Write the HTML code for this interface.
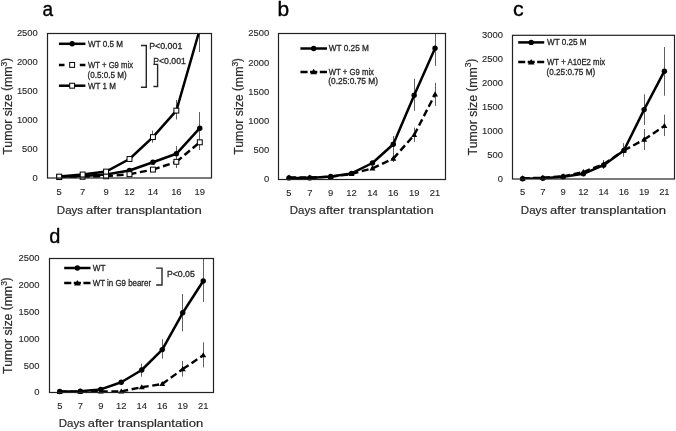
<!DOCTYPE html><html><head><meta charset="utf-8"><style>html,body{margin:0;padding:0;background:#fff;width:676px;height:431px;overflow:hidden}svg{display:block;will-change:transform}</style></head><body><svg width="676" height="431" viewBox="0 0 676 431" font-family="Liberation Sans, sans-serif">
<rect width="676" height="431" fill="#fff"/>
<line x1="152.50" y1="130.6" x2="152.50" y2="142.7" stroke="#606060" stroke-width="1"/>
<line x1="176.50" y1="100" x2="176.50" y2="119.5" stroke="#606060" stroke-width="1"/>
<line x1="199.50" y1="33.5" x2="199.50" y2="52" stroke="#606060" stroke-width="1"/>
<line x1="199.50" y1="112" x2="199.50" y2="145" stroke="#606060" stroke-width="1"/>
<line x1="176.50" y1="146" x2="176.50" y2="160" stroke="#606060" stroke-width="1"/>
<line x1="199.50" y1="135" x2="199.50" y2="150" stroke="#606060" stroke-width="1"/>
<line x1="176.50" y1="155" x2="176.50" y2="168" stroke="#606060" stroke-width="1"/>
<clipPath id="ca"><rect x="47.5" y="33.5" width="164.00" height="144.50"/></clipPath>
<polyline clip-path="url(#ca)" points="59.21,176.8 82.64,176 106.07,174.5 129.50,170.5 152.93,162.2 176.36,153.8 199.79,128.2" fill="none" stroke="#000" stroke-width="2.5" stroke-linejoin="round"/>
<line clip-path="url(#ca)" x1="59.21" y1="177.1" x2="82.64" y2="176.8" stroke="#000" stroke-width="2.4" stroke-dasharray="7,3.6" stroke-dashoffset="0"/>
<line clip-path="url(#ca)" x1="82.64" y1="176.8" x2="106.07" y2="176.3" stroke="#000" stroke-width="2.4" stroke-dasharray="7,3.6" stroke-dashoffset="0"/>
<line clip-path="url(#ca)" x1="106.07" y1="176.3" x2="129.50" y2="174.2" stroke="#000" stroke-width="2.4" stroke-dasharray="7,3.6" stroke-dashoffset="0"/>
<line clip-path="url(#ca)" x1="129.50" y1="174.2" x2="152.93" y2="169.6" stroke="#000" stroke-width="2.4" stroke-dasharray="7,3.6" stroke-dashoffset="0"/>
<line clip-path="url(#ca)" x1="152.93" y1="169.6" x2="176.36" y2="161.8" stroke="#000" stroke-width="2.4" stroke-dasharray="7,3.6" stroke-dashoffset="0"/>
<line clip-path="url(#ca)" x1="176.36" y1="161.8" x2="199.79" y2="142.3" stroke="#000" stroke-width="2.4" stroke-dasharray="7,3.6" stroke-dashoffset="0"/>
<polyline clip-path="url(#ca)" points="59.21,176.6 82.64,174.5 106.07,171.6 129.50,159 152.93,137.1 176.36,110.6 199.79,29.3" fill="none" stroke="#000" stroke-width="2.5" stroke-linejoin="round"/>
<circle cx="59.21" cy="176.80" r="2.7" fill="#000"/>
<circle cx="82.64" cy="176.00" r="2.7" fill="#000"/>
<circle cx="106.07" cy="174.50" r="2.7" fill="#000"/>
<circle cx="129.50" cy="170.50" r="2.7" fill="#000"/>
<circle cx="152.93" cy="162.20" r="2.7" fill="#000"/>
<circle cx="176.36" cy="153.80" r="2.7" fill="#000"/>
<circle cx="199.79" cy="128.20" r="2.7" fill="#000"/>
<rect x="56.76" y="174.65" width="4.9" height="4.9" fill="#fff" stroke="#000" stroke-width="1"/>
<rect x="80.19" y="174.35" width="4.9" height="4.9" fill="#fff" stroke="#000" stroke-width="1"/>
<rect x="103.62" y="173.85" width="4.9" height="4.9" fill="#fff" stroke="#000" stroke-width="1"/>
<rect x="127.05" y="171.75" width="4.9" height="4.9" fill="#fff" stroke="#000" stroke-width="1"/>
<rect x="150.48" y="167.15" width="4.9" height="4.9" fill="#fff" stroke="#000" stroke-width="1"/>
<rect x="173.91" y="159.35" width="4.9" height="4.9" fill="#fff" stroke="#000" stroke-width="1"/>
<rect x="197.34" y="139.85" width="4.9" height="4.9" fill="#fff" stroke="#000" stroke-width="1"/>
<rect x="56.76" y="174.15" width="4.9" height="4.9" fill="#fff" stroke="#000" stroke-width="1"/>
<rect x="80.19" y="172.05" width="4.9" height="4.9" fill="#fff" stroke="#000" stroke-width="1"/>
<rect x="103.62" y="169.15" width="4.9" height="4.9" fill="#fff" stroke="#000" stroke-width="1"/>
<rect x="127.05" y="156.55" width="4.9" height="4.9" fill="#fff" stroke="#000" stroke-width="1"/>
<rect x="150.48" y="134.65" width="4.9" height="4.9" fill="#fff" stroke="#000" stroke-width="1"/>
<rect x="173.91" y="108.15" width="4.9" height="4.9" fill="#fff" stroke="#000" stroke-width="1"/>
<rect x="47.5" y="33.5" width="164.00" height="144.50" fill="none" stroke="#222" stroke-width="1.2"/>
<text x="37.80" y="180.90" font-size="9.9" fill="#262626" text-anchor="end" stroke="#262626" stroke-width="0.12" textLength="5.23" lengthAdjust="spacingAndGlyphs" >0</text>
<text x="37.80" y="152.00" font-size="9.9" fill="#262626" text-anchor="end" stroke="#262626" stroke-width="0.12" textLength="15.68" lengthAdjust="spacingAndGlyphs" >500</text>
<text x="37.80" y="123.10" font-size="9.9" fill="#262626" text-anchor="end" stroke="#262626" stroke-width="0.12" textLength="20.91" lengthAdjust="spacingAndGlyphs" >1000</text>
<text x="37.80" y="94.20" font-size="9.9" fill="#262626" text-anchor="end" stroke="#262626" stroke-width="0.12" textLength="20.91" lengthAdjust="spacingAndGlyphs" >1500</text>
<text x="37.80" y="65.30" font-size="9.9" fill="#262626" text-anchor="end" stroke="#262626" stroke-width="0.12" textLength="20.91" lengthAdjust="spacingAndGlyphs" >2000</text>
<text x="37.80" y="36.40" font-size="9.9" fill="#262626" text-anchor="end" stroke="#262626" stroke-width="0.12" textLength="20.91" lengthAdjust="spacingAndGlyphs" >2500</text>
<text x="59.21" y="194.80" font-size="9.9" fill="#262626" text-anchor="middle" stroke="#262626" stroke-width="0.12" textLength="5.23" lengthAdjust="spacingAndGlyphs" >5</text>
<text x="82.64" y="194.80" font-size="9.9" fill="#262626" text-anchor="middle" stroke="#262626" stroke-width="0.12" textLength="5.23" lengthAdjust="spacingAndGlyphs" >7</text>
<text x="106.07" y="194.80" font-size="9.9" fill="#262626" text-anchor="middle" stroke="#262626" stroke-width="0.12" textLength="5.23" lengthAdjust="spacingAndGlyphs" >9</text>
<text x="129.50" y="194.80" font-size="9.9" fill="#262626" text-anchor="middle" stroke="#262626" stroke-width="0.12" textLength="10.45" lengthAdjust="spacingAndGlyphs" >12</text>
<text x="152.93" y="194.80" font-size="9.9" fill="#262626" text-anchor="middle" stroke="#262626" stroke-width="0.12" textLength="10.45" lengthAdjust="spacingAndGlyphs" >14</text>
<text x="176.36" y="194.80" font-size="9.9" fill="#262626" text-anchor="middle" stroke="#262626" stroke-width="0.12" textLength="10.45" lengthAdjust="spacingAndGlyphs" >16</text>
<text x="199.79" y="194.80" font-size="9.9" fill="#262626" text-anchor="middle" stroke="#262626" stroke-width="0.12" textLength="10.45" lengthAdjust="spacingAndGlyphs" >19</text>
<text x="56.85" y="213.50" font-size="11.4" fill="#2a2a2a" text-anchor="start" stroke="#2a2a2a" stroke-width="0.2" textLength="26.28" lengthAdjust="spacingAndGlyphs" >Days</text>
<text x="86.03" y="213.50" font-size="11.4" fill="#2a2a2a" text-anchor="start" stroke="#2a2a2a" stroke-width="0.2" textLength="25.82" lengthAdjust="spacingAndGlyphs" >after</text>
<text x="116.03" y="213.50" font-size="11.4" fill="#2a2a2a" text-anchor="start" stroke="#2a2a2a" stroke-width="0.2" textLength="85.79" lengthAdjust="spacingAndGlyphs" >transplantation</text>
<line x1="393.50" y1="136" x2="393.50" y2="152.6" stroke="#606060" stroke-width="1"/>
<line x1="414.50" y1="78.7" x2="414.50" y2="110.8" stroke="#606060" stroke-width="1"/>
<line x1="435.50" y1="33.5" x2="435.50" y2="65.9" stroke="#606060" stroke-width="1"/>
<line x1="414.50" y1="127.6" x2="414.50" y2="142" stroke="#606060" stroke-width="1"/>
<line x1="435.50" y1="82.9" x2="435.50" y2="105.9" stroke="#606060" stroke-width="1"/>
<line x1="393.50" y1="152" x2="393.50" y2="162" stroke="#606060" stroke-width="1"/>
<clipPath id="cb"><rect x="278.5" y="33.5" width="167.00" height="146.00"/></clipPath>
<polyline clip-path="url(#cb)" points="288.94,177.9 309.81,177.9 330.69,176.5 351.56,173.4 372.44,163 393.31,144.3 414.19,95.2 435.06,48.2" fill="none" stroke="#000" stroke-width="2.5" stroke-linejoin="round"/>
<line clip-path="url(#cb)" x1="288.94" y1="177.5" x2="309.81" y2="177.5" stroke="#000" stroke-width="2.4" stroke-dasharray="7,3.6" stroke-dashoffset="0"/>
<line clip-path="url(#cb)" x1="309.81" y1="177.5" x2="330.69" y2="176.8" stroke="#000" stroke-width="2.4" stroke-dasharray="7,3.6" stroke-dashoffset="0"/>
<line clip-path="url(#cb)" x1="330.69" y1="176.8" x2="351.56" y2="174" stroke="#000" stroke-width="2.4" stroke-dasharray="7,3.6" stroke-dashoffset="0"/>
<line clip-path="url(#cb)" x1="351.56" y1="174" x2="372.44" y2="168.3" stroke="#000" stroke-width="2.4" stroke-dasharray="7,3.6" stroke-dashoffset="0"/>
<line clip-path="url(#cb)" x1="372.44" y1="168.3" x2="393.31" y2="158.6" stroke="#000" stroke-width="2.4" stroke-dasharray="7,3.6" stroke-dashoffset="0"/>
<line clip-path="url(#cb)" x1="393.31" y1="158.6" x2="414.19" y2="135" stroke="#000" stroke-width="2.4" stroke-dasharray="7,3.6" stroke-dashoffset="0"/>
<line clip-path="url(#cb)" x1="414.19" y1="135" x2="435.06" y2="94.3" stroke="#000" stroke-width="2.4" stroke-dasharray="7,3.6" stroke-dashoffset="0"/>
<circle cx="288.94" cy="177.90" r="2.7" fill="#000"/>
<circle cx="309.81" cy="177.90" r="2.7" fill="#000"/>
<circle cx="330.69" cy="176.50" r="2.7" fill="#000"/>
<circle cx="351.56" cy="173.40" r="2.7" fill="#000"/>
<circle cx="372.44" cy="163.00" r="2.7" fill="#000"/>
<circle cx="393.31" cy="144.30" r="2.7" fill="#000"/>
<circle cx="414.19" cy="95.20" r="2.7" fill="#000"/>
<circle cx="435.06" cy="48.20" r="2.7" fill="#000"/>
<path d="M288.94,174.50 L291.94,179.60 L285.94,179.60 Z" fill="#000"/>
<path d="M309.81,174.50 L312.81,179.60 L306.81,179.60 Z" fill="#000"/>
<path d="M330.69,173.80 L333.69,178.90 L327.69,178.90 Z" fill="#000"/>
<path d="M351.56,171.00 L354.56,176.10 L348.56,176.10 Z" fill="#000"/>
<path d="M372.44,165.30 L375.44,170.40 L369.44,170.40 Z" fill="#000"/>
<path d="M393.31,155.60 L396.31,160.70 L390.31,160.70 Z" fill="#000"/>
<path d="M414.19,132.00 L417.19,137.10 L411.19,137.10 Z" fill="#000"/>
<path d="M435.06,91.30 L438.06,96.40 L432.06,96.40 Z" fill="#000"/>
<rect x="278.5" y="33.5" width="167.00" height="146.00" fill="none" stroke="#222" stroke-width="1.2"/>
<text x="269.20" y="182.40" font-size="9.9" fill="#262626" text-anchor="end" stroke="#262626" stroke-width="0.12" textLength="5.23" lengthAdjust="spacingAndGlyphs" >0</text>
<text x="269.20" y="153.20" font-size="9.9" fill="#262626" text-anchor="end" stroke="#262626" stroke-width="0.12" textLength="15.68" lengthAdjust="spacingAndGlyphs" >500</text>
<text x="269.20" y="124.00" font-size="9.9" fill="#262626" text-anchor="end" stroke="#262626" stroke-width="0.12" textLength="20.91" lengthAdjust="spacingAndGlyphs" >1000</text>
<text x="269.20" y="94.80" font-size="9.9" fill="#262626" text-anchor="end" stroke="#262626" stroke-width="0.12" textLength="20.91" lengthAdjust="spacingAndGlyphs" >1500</text>
<text x="269.20" y="65.60" font-size="9.9" fill="#262626" text-anchor="end" stroke="#262626" stroke-width="0.12" textLength="20.91" lengthAdjust="spacingAndGlyphs" >2000</text>
<text x="269.20" y="36.40" font-size="9.9" fill="#262626" text-anchor="end" stroke="#262626" stroke-width="0.12" textLength="20.91" lengthAdjust="spacingAndGlyphs" >2500</text>
<text x="288.94" y="196.40" font-size="9.9" fill="#262626" text-anchor="middle" stroke="#262626" stroke-width="0.12" textLength="5.23" lengthAdjust="spacingAndGlyphs" >5</text>
<text x="309.81" y="196.40" font-size="9.9" fill="#262626" text-anchor="middle" stroke="#262626" stroke-width="0.12" textLength="5.23" lengthAdjust="spacingAndGlyphs" >7</text>
<text x="330.69" y="196.40" font-size="9.9" fill="#262626" text-anchor="middle" stroke="#262626" stroke-width="0.12" textLength="5.23" lengthAdjust="spacingAndGlyphs" >9</text>
<text x="351.56" y="196.40" font-size="9.9" fill="#262626" text-anchor="middle" stroke="#262626" stroke-width="0.12" textLength="10.45" lengthAdjust="spacingAndGlyphs" >12</text>
<text x="372.44" y="196.40" font-size="9.9" fill="#262626" text-anchor="middle" stroke="#262626" stroke-width="0.12" textLength="10.45" lengthAdjust="spacingAndGlyphs" >14</text>
<text x="393.31" y="196.40" font-size="9.9" fill="#262626" text-anchor="middle" stroke="#262626" stroke-width="0.12" textLength="10.45" lengthAdjust="spacingAndGlyphs" >16</text>
<text x="414.19" y="196.40" font-size="9.9" fill="#262626" text-anchor="middle" stroke="#262626" stroke-width="0.12" textLength="10.45" lengthAdjust="spacingAndGlyphs" >19</text>
<text x="435.06" y="196.40" font-size="9.9" fill="#262626" text-anchor="middle" stroke="#262626" stroke-width="0.12" textLength="10.45" lengthAdjust="spacingAndGlyphs" >21</text>
<text x="289.85" y="214.10" font-size="11.4" fill="#2a2a2a" text-anchor="start" stroke="#2a2a2a" stroke-width="0.2" textLength="26.10" lengthAdjust="spacingAndGlyphs" >Days</text>
<text x="318.84" y="214.10" font-size="11.4" fill="#2a2a2a" text-anchor="start" stroke="#2a2a2a" stroke-width="0.2" textLength="25.64" lengthAdjust="spacingAndGlyphs" >after</text>
<text x="348.62" y="214.10" font-size="11.4" fill="#2a2a2a" text-anchor="start" stroke="#2a2a2a" stroke-width="0.2" textLength="85.19" lengthAdjust="spacingAndGlyphs" >transplantation</text>
<line x1="623.50" y1="143.2" x2="623.50" y2="156.8" stroke="#606060" stroke-width="1"/>
<line x1="644.50" y1="94.3" x2="644.50" y2="125" stroke="#606060" stroke-width="1"/>
<line x1="664.50" y1="47" x2="664.50" y2="95.7" stroke="#606060" stroke-width="1"/>
<line x1="644.50" y1="129" x2="644.50" y2="150" stroke="#606060" stroke-width="1"/>
<line x1="664.50" y1="114.7" x2="664.50" y2="136.1" stroke="#606060" stroke-width="1"/>
<line x1="603.50" y1="160" x2="603.50" y2="169" stroke="#606060" stroke-width="1"/>
<clipPath id="cc"><rect x="512.5" y="35.3" width="162.00" height="143.70"/></clipPath>
<polyline clip-path="url(#cc)" points="522.62,178.7 542.88,178.2 563.12,176.8 583.38,173.8 603.62,165.2 623.88,150.5 644.12,109.6 664.38,71.2" fill="none" stroke="#000" stroke-width="2.5" stroke-linejoin="round"/>
<line clip-path="url(#cc)" x1="522.62" y1="178.3" x2="542.88" y2="177.8" stroke="#000" stroke-width="2.4" stroke-dasharray="7,3.6" stroke-dashoffset="0"/>
<line clip-path="url(#cc)" x1="542.88" y1="177.8" x2="563.12" y2="176.3" stroke="#000" stroke-width="2.4" stroke-dasharray="7,3.6" stroke-dashoffset="0"/>
<line clip-path="url(#cc)" x1="563.12" y1="176.3" x2="583.38" y2="172.0" stroke="#000" stroke-width="2.4" stroke-dasharray="7,3.6" stroke-dashoffset="0"/>
<line clip-path="url(#cc)" x1="583.38" y1="172.0" x2="603.62" y2="164.2" stroke="#000" stroke-width="2.4" stroke-dasharray="7,3.6" stroke-dashoffset="0"/>
<line clip-path="url(#cc)" x1="603.62" y1="164.2" x2="623.88" y2="150.5" stroke="#000" stroke-width="2.4" stroke-dasharray="7,3.6" stroke-dashoffset="0"/>
<line clip-path="url(#cc)" x1="623.88" y1="150.5" x2="644.12" y2="139.6" stroke="#000" stroke-width="2.4" stroke-dasharray="7,3.6" stroke-dashoffset="0"/>
<line clip-path="url(#cc)" x1="644.12" y1="139.6" x2="664.38" y2="126" stroke="#000" stroke-width="2.4" stroke-dasharray="7,3.6" stroke-dashoffset="0"/>
<circle cx="522.62" cy="178.70" r="2.7" fill="#000"/>
<circle cx="542.88" cy="178.20" r="2.7" fill="#000"/>
<circle cx="563.12" cy="176.80" r="2.7" fill="#000"/>
<circle cx="583.38" cy="173.80" r="2.7" fill="#000"/>
<circle cx="603.62" cy="165.20" r="2.7" fill="#000"/>
<circle cx="623.88" cy="150.50" r="2.7" fill="#000"/>
<circle cx="644.12" cy="109.60" r="2.7" fill="#000"/>
<circle cx="664.38" cy="71.20" r="2.7" fill="#000"/>
<path d="M522.62,175.30 L525.62,180.40 L519.62,180.40 Z" fill="#000"/>
<path d="M542.88,174.80 L545.88,179.90 L539.88,179.90 Z" fill="#000"/>
<path d="M563.12,173.30 L566.12,178.40 L560.12,178.40 Z" fill="#000"/>
<path d="M583.38,169.00 L586.38,174.10 L580.38,174.10 Z" fill="#000"/>
<path d="M603.62,161.20 L606.62,166.30 L600.62,166.30 Z" fill="#000"/>
<path d="M623.88,147.50 L626.88,152.60 L620.88,152.60 Z" fill="#000"/>
<path d="M644.12,136.60 L647.12,141.70 L641.12,141.70 Z" fill="#000"/>
<path d="M664.38,123.00 L667.38,128.10 L661.38,128.10 Z" fill="#000"/>
<rect x="512.5" y="35.3" width="162.00" height="143.70" fill="none" stroke="#222" stroke-width="1.2"/>
<text x="503.00" y="181.90" font-size="9.9" fill="#262626" text-anchor="end" stroke="#262626" stroke-width="0.12" textLength="5.23" lengthAdjust="spacingAndGlyphs" >0</text>
<text x="503.00" y="157.95" font-size="9.9" fill="#262626" text-anchor="end" stroke="#262626" stroke-width="0.12" textLength="15.68" lengthAdjust="spacingAndGlyphs" >500</text>
<text x="503.00" y="134.00" font-size="9.9" fill="#262626" text-anchor="end" stroke="#262626" stroke-width="0.12" textLength="20.91" lengthAdjust="spacingAndGlyphs" >1000</text>
<text x="503.00" y="110.05" font-size="9.9" fill="#262626" text-anchor="end" stroke="#262626" stroke-width="0.12" textLength="20.91" lengthAdjust="spacingAndGlyphs" >1500</text>
<text x="503.00" y="86.10" font-size="9.9" fill="#262626" text-anchor="end" stroke="#262626" stroke-width="0.12" textLength="20.91" lengthAdjust="spacingAndGlyphs" >2000</text>
<text x="503.00" y="62.15" font-size="9.9" fill="#262626" text-anchor="end" stroke="#262626" stroke-width="0.12" textLength="20.91" lengthAdjust="spacingAndGlyphs" >2500</text>
<text x="503.00" y="38.20" font-size="9.9" fill="#262626" text-anchor="end" stroke="#262626" stroke-width="0.12" textLength="20.91" lengthAdjust="spacingAndGlyphs" >3000</text>
<text x="522.62" y="195.30" font-size="9.9" fill="#262626" text-anchor="middle" stroke="#262626" stroke-width="0.12" textLength="5.23" lengthAdjust="spacingAndGlyphs" >5</text>
<text x="542.88" y="195.30" font-size="9.9" fill="#262626" text-anchor="middle" stroke="#262626" stroke-width="0.12" textLength="5.23" lengthAdjust="spacingAndGlyphs" >7</text>
<text x="563.12" y="195.30" font-size="9.9" fill="#262626" text-anchor="middle" stroke="#262626" stroke-width="0.12" textLength="5.23" lengthAdjust="spacingAndGlyphs" >9</text>
<text x="583.38" y="195.30" font-size="9.9" fill="#262626" text-anchor="middle" stroke="#262626" stroke-width="0.12" textLength="10.45" lengthAdjust="spacingAndGlyphs" >12</text>
<text x="603.62" y="195.30" font-size="9.9" fill="#262626" text-anchor="middle" stroke="#262626" stroke-width="0.12" textLength="10.45" lengthAdjust="spacingAndGlyphs" >14</text>
<text x="623.88" y="195.30" font-size="9.9" fill="#262626" text-anchor="middle" stroke="#262626" stroke-width="0.12" textLength="10.45" lengthAdjust="spacingAndGlyphs" >16</text>
<text x="644.12" y="195.30" font-size="9.9" fill="#262626" text-anchor="middle" stroke="#262626" stroke-width="0.12" textLength="10.45" lengthAdjust="spacingAndGlyphs" >19</text>
<text x="664.38" y="195.30" font-size="9.9" fill="#262626" text-anchor="middle" stroke="#262626" stroke-width="0.12" textLength="10.45" lengthAdjust="spacingAndGlyphs" >21</text>
<text x="520.85" y="213.90" font-size="11.4" fill="#2a2a2a" text-anchor="start" stroke="#2a2a2a" stroke-width="0.2" textLength="26.34" lengthAdjust="spacingAndGlyphs" >Days</text>
<text x="550.09" y="213.90" font-size="11.4" fill="#2a2a2a" text-anchor="start" stroke="#2a2a2a" stroke-width="0.2" textLength="25.87" lengthAdjust="spacingAndGlyphs" >after</text>
<text x="580.15" y="213.90" font-size="11.4" fill="#2a2a2a" text-anchor="start" stroke="#2a2a2a" stroke-width="0.2" textLength="85.97" lengthAdjust="spacingAndGlyphs" >transplantation</text>
<line x1="141.50" y1="363.6" x2="141.50" y2="376.6" stroke="#606060" stroke-width="1"/>
<line x1="162.50" y1="339.2" x2="162.50" y2="358.7" stroke="#606060" stroke-width="1"/>
<line x1="182.50" y1="294" x2="182.50" y2="331.3" stroke="#606060" stroke-width="1"/>
<line x1="203.50" y1="258.9" x2="203.50" y2="302" stroke="#606060" stroke-width="1"/>
<line x1="182.50" y1="360.9" x2="182.50" y2="376.6" stroke="#606060" stroke-width="1"/>
<line x1="203.50" y1="342.3" x2="203.50" y2="367.4" stroke="#606060" stroke-width="1"/>
<clipPath id="cd"><rect x="49.5" y="258.5" width="164.00" height="134.00"/></clipPath>
<polyline clip-path="url(#cd)" points="59.75,391.5 80.25,391.2 100.75,389.4 121.25,382.2 141.75,370 162.25,349.6 182.75,312.8 203.25,281" fill="none" stroke="#000" stroke-width="2.5" stroke-linejoin="round"/>
<line clip-path="url(#cd)" x1="59.75" y1="391.8" x2="80.25" y2="391.6" stroke="#000" stroke-width="2.4" stroke-dasharray="7,3.6" stroke-dashoffset="0"/>
<line clip-path="url(#cd)" x1="80.25" y1="391.6" x2="100.75" y2="391.4" stroke="#000" stroke-width="2.4" stroke-dasharray="7,3.6" stroke-dashoffset="0"/>
<line clip-path="url(#cd)" x1="100.75" y1="391.4" x2="121.25" y2="391.4" stroke="#000" stroke-width="2.4" stroke-dasharray="7,3.6" stroke-dashoffset="0"/>
<line clip-path="url(#cd)" x1="121.25" y1="391.4" x2="141.75" y2="387.2" stroke="#000" stroke-width="2.4" stroke-dasharray="7,3.6" stroke-dashoffset="0"/>
<line clip-path="url(#cd)" x1="141.75" y1="387.2" x2="162.25" y2="384" stroke="#000" stroke-width="2.4" stroke-dasharray="7,3.6" stroke-dashoffset="0"/>
<line clip-path="url(#cd)" x1="162.25" y1="384" x2="182.75" y2="369.1" stroke="#000" stroke-width="2.4" stroke-dasharray="7,3.6" stroke-dashoffset="0"/>
<line clip-path="url(#cd)" x1="182.75" y1="369.1" x2="203.25" y2="355.2" stroke="#000" stroke-width="2.4" stroke-dasharray="7,3.6" stroke-dashoffset="0"/>
<circle cx="59.75" cy="391.50" r="2.7" fill="#000"/>
<circle cx="80.25" cy="391.20" r="2.7" fill="#000"/>
<circle cx="100.75" cy="389.40" r="2.7" fill="#000"/>
<circle cx="121.25" cy="382.20" r="2.7" fill="#000"/>
<circle cx="141.75" cy="370.00" r="2.7" fill="#000"/>
<circle cx="162.25" cy="349.60" r="2.7" fill="#000"/>
<circle cx="182.75" cy="312.80" r="2.7" fill="#000"/>
<circle cx="203.25" cy="281.00" r="2.7" fill="#000"/>
<path d="M59.75,388.80 L62.75,393.90 L56.75,393.90 Z" fill="#000"/>
<path d="M80.25,388.60 L83.25,393.70 L77.25,393.70 Z" fill="#000"/>
<path d="M100.75,388.40 L103.75,393.50 L97.75,393.50 Z" fill="#000"/>
<path d="M121.25,388.40 L124.25,393.50 L118.25,393.50 Z" fill="#000"/>
<path d="M141.75,384.20 L144.75,389.30 L138.75,389.30 Z" fill="#000"/>
<path d="M162.25,381.00 L165.25,386.10 L159.25,386.10 Z" fill="#000"/>
<path d="M182.75,366.10 L185.75,371.20 L179.75,371.20 Z" fill="#000"/>
<path d="M203.25,352.20 L206.25,357.30 L200.25,357.30 Z" fill="#000"/>
<rect x="49.5" y="258.5" width="164.00" height="134.00" fill="none" stroke="#222" stroke-width="1.2"/>
<text x="39.50" y="395.40" font-size="9.9" fill="#262626" text-anchor="end" stroke="#262626" stroke-width="0.12" textLength="5.23" lengthAdjust="spacingAndGlyphs" >0</text>
<text x="39.50" y="368.60" font-size="9.9" fill="#262626" text-anchor="end" stroke="#262626" stroke-width="0.12" textLength="15.68" lengthAdjust="spacingAndGlyphs" >500</text>
<text x="39.50" y="341.80" font-size="9.9" fill="#262626" text-anchor="end" stroke="#262626" stroke-width="0.12" textLength="20.91" lengthAdjust="spacingAndGlyphs" >1000</text>
<text x="39.50" y="315.00" font-size="9.9" fill="#262626" text-anchor="end" stroke="#262626" stroke-width="0.12" textLength="20.91" lengthAdjust="spacingAndGlyphs" >1500</text>
<text x="39.50" y="288.20" font-size="9.9" fill="#262626" text-anchor="end" stroke="#262626" stroke-width="0.12" textLength="20.91" lengthAdjust="spacingAndGlyphs" >2000</text>
<text x="39.50" y="261.40" font-size="9.9" fill="#262626" text-anchor="end" stroke="#262626" stroke-width="0.12" textLength="20.91" lengthAdjust="spacingAndGlyphs" >2500</text>
<text x="59.75" y="408.80" font-size="9.9" fill="#262626" text-anchor="middle" stroke="#262626" stroke-width="0.12" textLength="5.23" lengthAdjust="spacingAndGlyphs" >5</text>
<text x="80.25" y="408.80" font-size="9.9" fill="#262626" text-anchor="middle" stroke="#262626" stroke-width="0.12" textLength="5.23" lengthAdjust="spacingAndGlyphs" >7</text>
<text x="100.75" y="408.80" font-size="9.9" fill="#262626" text-anchor="middle" stroke="#262626" stroke-width="0.12" textLength="5.23" lengthAdjust="spacingAndGlyphs" >9</text>
<text x="121.25" y="408.80" font-size="9.9" fill="#262626" text-anchor="middle" stroke="#262626" stroke-width="0.12" textLength="10.45" lengthAdjust="spacingAndGlyphs" >12</text>
<text x="141.75" y="408.80" font-size="9.9" fill="#262626" text-anchor="middle" stroke="#262626" stroke-width="0.12" textLength="10.45" lengthAdjust="spacingAndGlyphs" >14</text>
<text x="162.25" y="408.80" font-size="9.9" fill="#262626" text-anchor="middle" stroke="#262626" stroke-width="0.12" textLength="10.45" lengthAdjust="spacingAndGlyphs" >16</text>
<text x="182.75" y="408.80" font-size="9.9" fill="#262626" text-anchor="middle" stroke="#262626" stroke-width="0.12" textLength="10.45" lengthAdjust="spacingAndGlyphs" >19</text>
<text x="203.25" y="408.80" font-size="9.9" fill="#262626" text-anchor="middle" stroke="#262626" stroke-width="0.12" textLength="10.45" lengthAdjust="spacingAndGlyphs" >21</text>
<text x="58.75" y="426.70" font-size="11.4" fill="#2a2a2a" text-anchor="start" stroke="#2a2a2a" stroke-width="0.2" textLength="26.19" lengthAdjust="spacingAndGlyphs" >Days</text>
<text x="87.84" y="426.70" font-size="11.4" fill="#2a2a2a" text-anchor="start" stroke="#2a2a2a" stroke-width="0.2" textLength="25.73" lengthAdjust="spacingAndGlyphs" >after</text>
<text x="117.73" y="426.70" font-size="11.4" fill="#2a2a2a" text-anchor="start" stroke="#2a2a2a" stroke-width="0.2" textLength="85.49" lengthAdjust="spacingAndGlyphs" >transplantation</text>
<text x="42.49" y="15.50" font-size="20" fill="#000" text-anchor="start" stroke="#000" stroke-width="0.35" textLength="10.58" lengthAdjust="spacingAndGlyphs" >a</text>
<text x="277.54" y="15.50" font-size="20" fill="#000" text-anchor="start" stroke="#000" stroke-width="0.35" textLength="11.62" lengthAdjust="spacingAndGlyphs" >b</text>
<text x="512.99" y="15.50" font-size="20" fill="#000" text-anchor="start" stroke="#000" stroke-width="0.35" textLength="10.70" lengthAdjust="spacingAndGlyphs" >c</text>
<text x="49.25" y="242.60" font-size="19.5" fill="#000" text-anchor="start" stroke="#000" stroke-width="0.35" textLength="11.12" lengthAdjust="spacingAndGlyphs" >d</text>
<g transform="translate(12.3,154.7) rotate(-90)"><text x="0" y="0" font-size="13.2" fill="#2a2a2a" stroke="#2a2a2a" stroke-width="0.2" textLength="96.70" lengthAdjust="spacingAndGlyphs">Tumor size <tspan font-size="12.2" dy="-1.9">(</tspan><tspan font-size="13.2" dy="1.9">mm</tspan><tspan font-size="9" dy="-5.3">3</tspan><tspan font-size="12.2" dy="3.4">)</tspan></text></g>
<g transform="translate(243.3,154.8) rotate(-90)"><text x="0" y="0" font-size="13.2" fill="#2a2a2a" stroke="#2a2a2a" stroke-width="0.2" textLength="96.70" lengthAdjust="spacingAndGlyphs">Tumor size <tspan font-size="12.2" dy="-1.9">(</tspan><tspan font-size="13.2" dy="1.9">mm</tspan><tspan font-size="9" dy="-5.3">3</tspan><tspan font-size="12.2" dy="3.4">)</tspan></text></g>
<g transform="translate(476.5,155.4) rotate(-90)"><text x="0" y="0" font-size="13.2" fill="#2a2a2a" stroke="#2a2a2a" stroke-width="0.2" textLength="96.70" lengthAdjust="spacingAndGlyphs">Tumor size <tspan font-size="12.2" dy="-1.9">(</tspan><tspan font-size="13.2" dy="1.9">mm</tspan><tspan font-size="9" dy="-5.3">3</tspan><tspan font-size="12.2" dy="3.4">)</tspan></text></g>
<g transform="translate(12,373.9) rotate(-90)"><text x="0" y="0" font-size="13.2" fill="#2a2a2a" stroke="#2a2a2a" stroke-width="0.2" textLength="96.50" lengthAdjust="spacingAndGlyphs">Tumor size <tspan font-size="12.2" dy="-1.9">(</tspan><tspan font-size="13.2" dy="1.9">mm</tspan><tspan font-size="9" dy="-5.3">3</tspan><tspan font-size="12.2" dy="3.4">)</tspan></text></g>
<line x1="58.9" y1="43.8" x2="85.4" y2="43.8" stroke="#000" stroke-width="2.5"/>
<circle cx="72.15" cy="43.80" r="2.7" fill="#000"/>
<text x="88.06" y="46.60" font-size="9" fill="#262626" text-anchor="start" stroke="#262626" stroke-width="0.3" textLength="34.81" lengthAdjust="spacingAndGlyphs" >WT 0.5 M</text>
<path d="M58.9,64.9 h5.6 M79.80,64.9 h5.6" stroke="#000" stroke-width="2.5"/>
<rect x="69.70" y="62.45" width="4.9" height="4.9" fill="#fff" stroke="#000" stroke-width="1"/>
<text x="88.06" y="67.90" font-size="9" fill="#262626" text-anchor="start" stroke="#262626" stroke-width="0.3" textLength="44.94" lengthAdjust="spacingAndGlyphs" >WT + G9 mix</text>
<text x="87.59" y="78.30" font-size="9" fill="#262626" text-anchor="start" stroke="#262626" stroke-width="0.3" textLength="39.19" lengthAdjust="spacingAndGlyphs" >(0.5:0.5 M)</text>
<line x1="58.9" y1="85.7" x2="85.4" y2="85.7" stroke="#000" stroke-width="2.5"/>
<rect x="69.70" y="83.25" width="4.9" height="4.9" fill="#fff" stroke="#000" stroke-width="1"/>
<text x="88.06" y="88.80" font-size="9" fill="#262626" text-anchor="start" stroke="#262626" stroke-width="0.3" textLength="27.81" lengthAdjust="spacingAndGlyphs" >WT 1 M</text>
<path d="M140.9,45.5 H146.3 V87.3 H140.9" fill="none" stroke="#262626" stroke-width="1.4"/>
<text x="149.17" y="49.40" font-size="9" fill="#262626" text-anchor="start" stroke="#262626" stroke-width="0.3" textLength="33.16" lengthAdjust="spacingAndGlyphs" >P&lt;0.001</text>
<path d="M153.4,64.4 H157.6 V86.5 H153.4" fill="none" stroke="#262626" stroke-width="1.4"/>
<text x="153.28" y="64.00" font-size="9" fill="#262626" text-anchor="start" stroke="#262626" stroke-width="0.3" textLength="32.54" lengthAdjust="spacingAndGlyphs" >P&lt;0.001</text>
<line x1="300.4" y1="48.5" x2="327" y2="48.5" stroke="#000" stroke-width="2.5"/>
<circle cx="313.70" cy="48.50" r="2.7" fill="#000"/>
<text x="328.76" y="51.10" font-size="9" fill="#262626" text-anchor="start" stroke="#262626" stroke-width="0.3" textLength="40.22" lengthAdjust="spacingAndGlyphs" >WT 0.25 M</text>
<path d="M300.4,71.9 h7.20 m2.5,0 h7.20 m2.5,0 h7.20" stroke="#000" stroke-width="2.5"/>
<path d="M313.70,68.80 L317.00,74.30 L310.40,74.30 Z" fill="#000"/>
<text x="328.76" y="75.00" font-size="9" fill="#262626" text-anchor="start" stroke="#262626" stroke-width="0.3" textLength="45.24" lengthAdjust="spacingAndGlyphs" >WT + G9 mix</text>
<text x="328.28" y="84.30" font-size="9" fill="#262626" text-anchor="start" stroke="#262626" stroke-width="0.3" textLength="49.83" lengthAdjust="spacingAndGlyphs" >(0.25:0.75 M)</text>
<line x1="518.2" y1="42.4" x2="544.2" y2="42.4" stroke="#000" stroke-width="2.5"/>
<circle cx="531.20" cy="42.40" r="2.7" fill="#000"/>
<text x="546.96" y="45.40" font-size="9" fill="#262626" text-anchor="start" stroke="#262626" stroke-width="0.3" textLength="39.71" lengthAdjust="spacingAndGlyphs" >WT 0.25 M</text>
<path d="M518.2,62.1 h7.00 m2.5,0 h7.00 m2.5,0 h7.00" stroke="#000" stroke-width="2.5"/>
<path d="M531.20,59.00 L534.50,64.50 L527.90,64.50 Z" fill="#000"/>
<text x="546.96" y="65.20" font-size="9" fill="#262626" text-anchor="start" stroke="#262626" stroke-width="0.3" textLength="58.33" lengthAdjust="spacingAndGlyphs" >WT + A10E2 mix</text>
<text x="546.49" y="75.30" font-size="9" fill="#262626" text-anchor="start" stroke="#262626" stroke-width="0.3" textLength="48.80" lengthAdjust="spacingAndGlyphs" >(0.25:0.75 M)</text>
<line x1="64.2" y1="268" x2="90.5" y2="268" stroke="#000" stroke-width="2.5"/>
<circle cx="77.35" cy="268.00" r="2.7" fill="#000"/>
<text x="92.66" y="271.10" font-size="9" fill="#262626" text-anchor="start" stroke="#262626" stroke-width="0.3" textLength="12.82" lengthAdjust="spacingAndGlyphs" >WT</text>
<path d="M64.2,283.1 h7.10 m2.5,0 h7.10 m2.5,0 h7.10" stroke="#000" stroke-width="2.5"/>
<path d="M77.35,280.00 L80.65,285.50 L74.05,285.50 Z" fill="#000"/>
<text x="92.66" y="286.20" font-size="9" fill="#262626" text-anchor="start" stroke="#262626" stroke-width="0.3" textLength="58.36" lengthAdjust="spacingAndGlyphs" >WT in G9 bearer</text>
<path d="M156.2,268.1 H162 V285 H156.2" fill="none" stroke="#262626" stroke-width="1.4"/>
<text x="166.88" y="276.60" font-size="9" fill="#262626" text-anchor="start" stroke="#262626" stroke-width="0.3" textLength="27.89" lengthAdjust="spacingAndGlyphs" >P&lt;0.05</text>
</svg></body></html>
